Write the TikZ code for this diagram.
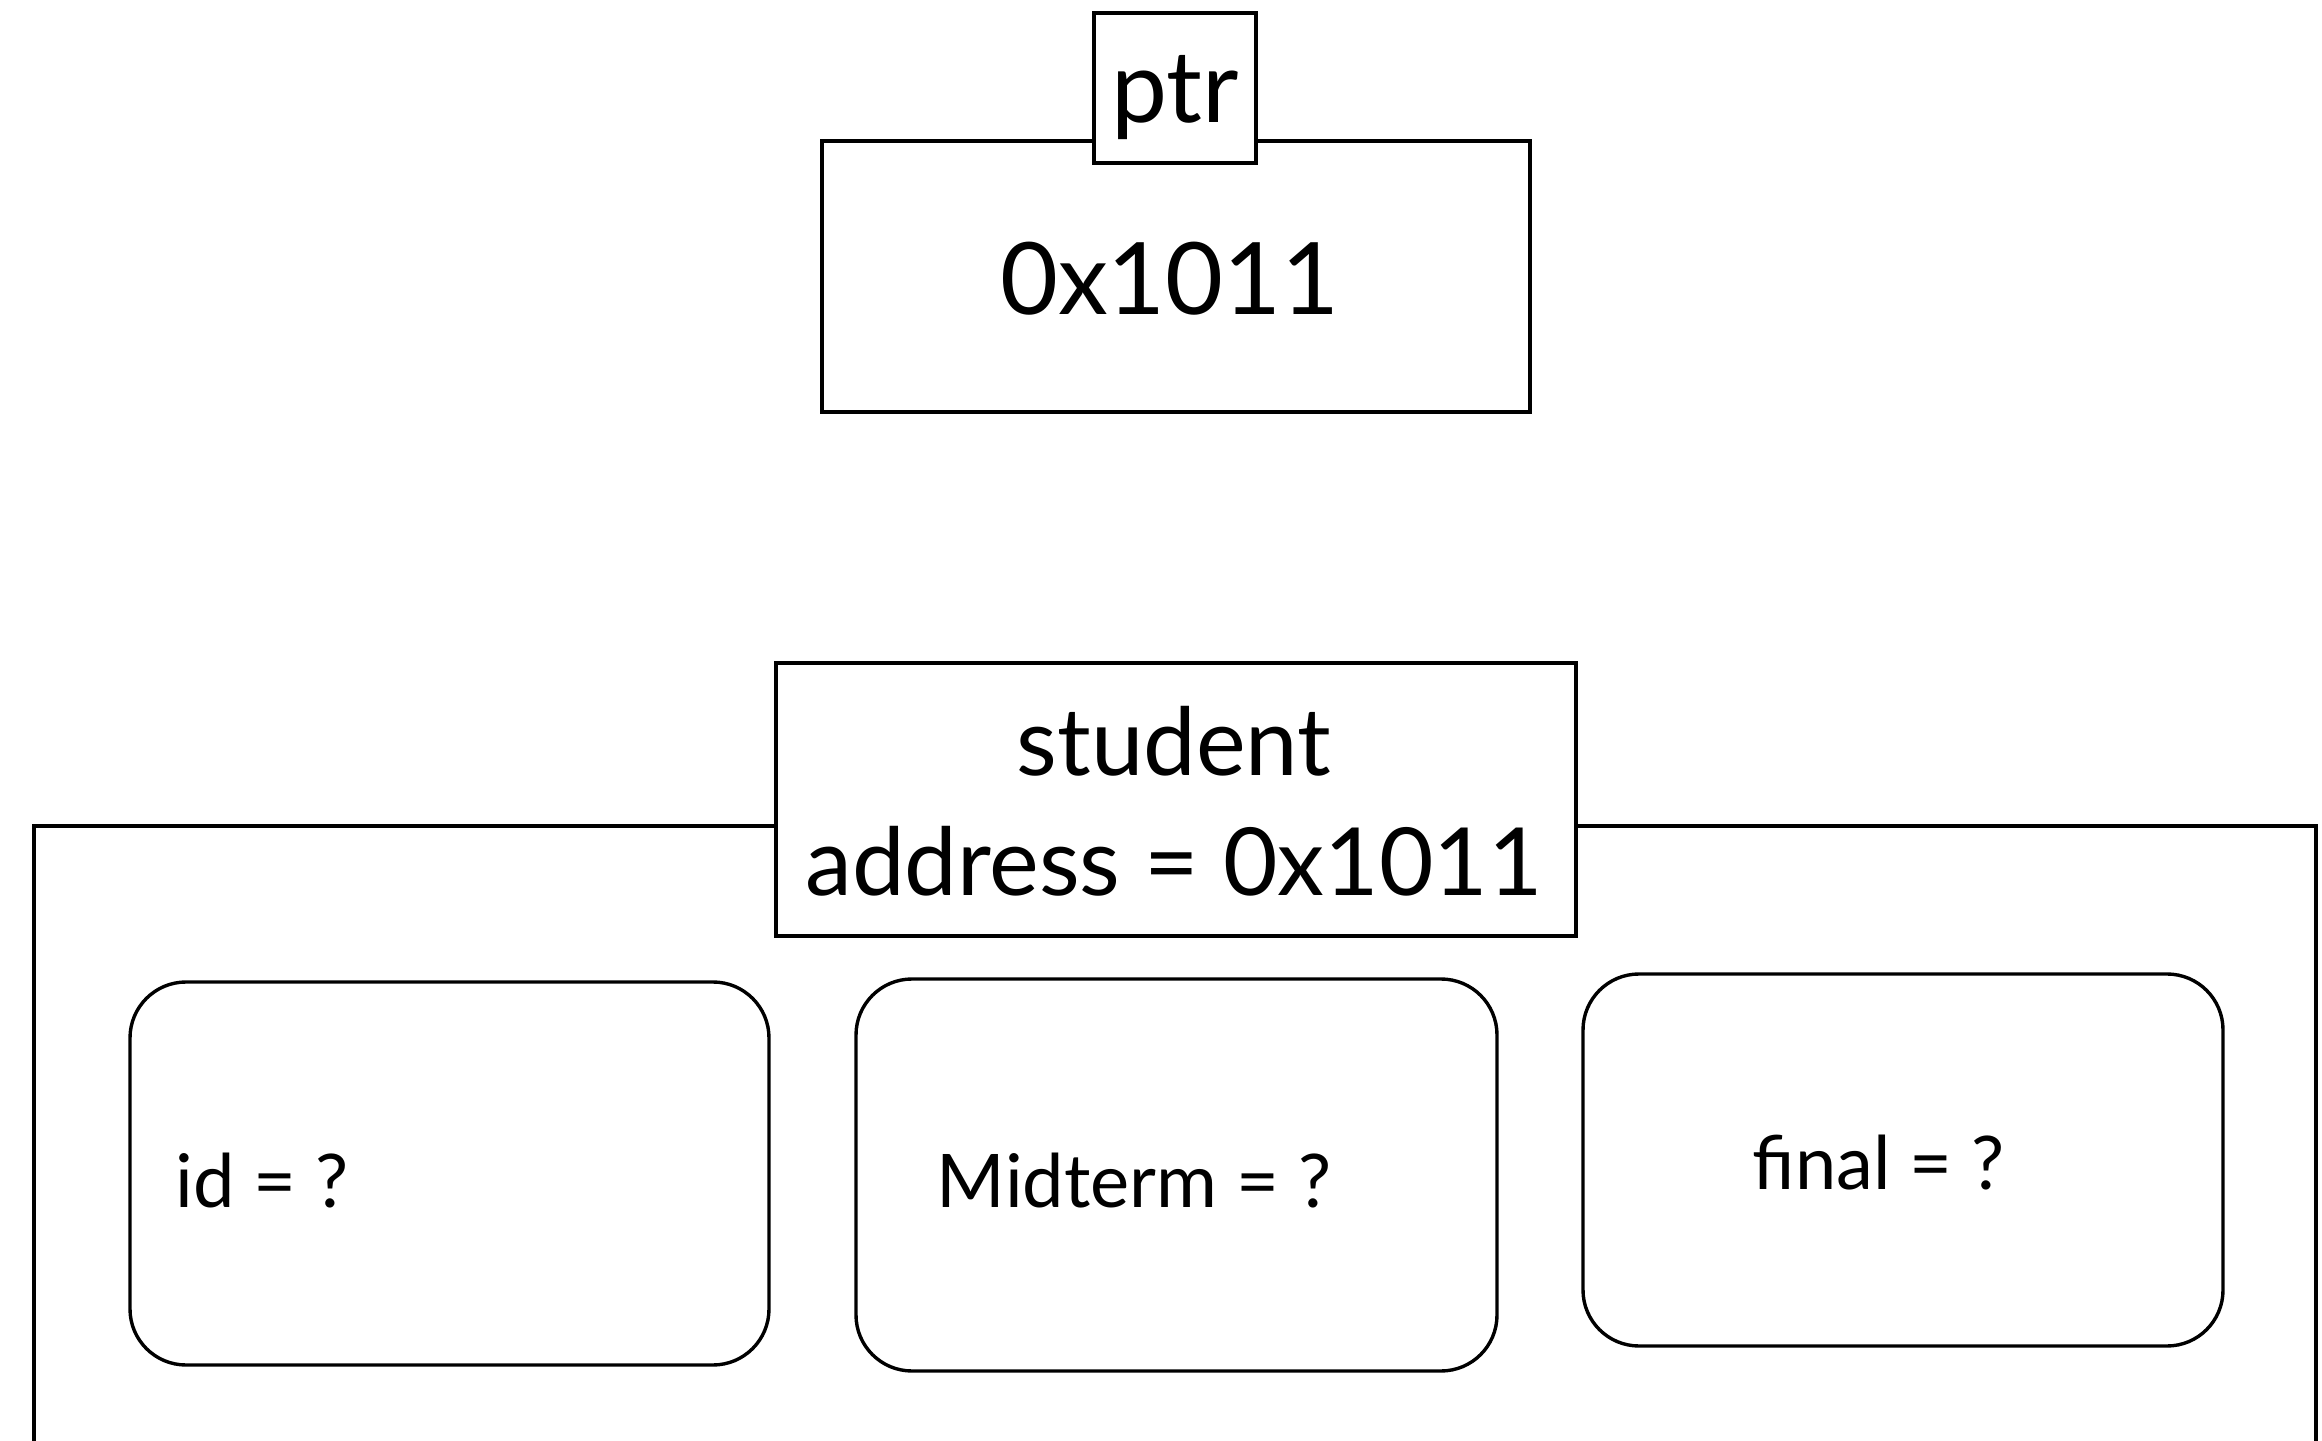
\documentclass[tikz,border=0pt]{standalone}
\usepackage{fontspec}
\setmainfont{Lato}
\begin{document}
\begin{tikzpicture}[x=0.25pt,y=-0.25pt,
  box/.style={draw, line width=0.9pt, fill=white, inner sep=0pt},
  field/.style={draw, line width=0.85pt, rounded corners=14pt, inner sep=0pt},
  bigtxt/.style={font=\fontsize{25}{30}\selectfont, inner sep=0pt},
  ptrtxt/.style={font=\fontsize{25}{30}\selectfont, inner sep=0pt},
  midtxt/.style={font=\fontsize{23.5}{28}\selectfont, inner sep=0pt},
  smalltxt/.style={font=\fontsize{18.5}{22}\selectfont, inner sep=0pt}]
\clip (0,0) rectangle (2322,1441);
\fill[white] (0,0) rectangle (2322,1441);

% pointer variable
\node[box, minimum width=708*0.25pt, minimum height=271*0.25pt] (val) at (1176,276.5) {};
\node[box, minimum width=162*0.25pt, minimum height=150*0.25pt] (ptrbox) at (1175,88) {};
\node[ptrtxt, anchor=base] (ptrlbl) at (1175,123) {ptr};
\node[bigtxt, anchor=base] (vallbl) at (1170,315) {0x1011};

% struct in memory
\draw[line width=0.9pt] (34,1480) -- (34,826) -- (2316,826) -- (2316,1480);
\node[box, minimum width=800*0.25pt, minimum height=273*0.25pt] (stud) at (1176,799.5) {};
\node[midtxt, anchor=base] (studname) at (1174,776) {student};
\node[midtxt, anchor=base] (studaddr) at (1174,896) {address = 0x1011};

% struct members
\node[field, minimum width=639*0.25pt, minimum height=383*0.25pt] (idbox) at (449.5,1173.5) {};
\node[field, minimum width=641*0.25pt, minimum height=392*0.25pt] (midbox) at (1176.5,1175) {};
\node[field, minimum width=640*0.25pt, minimum height=372*0.25pt] (finbox) at (1903,1160) {};
\node[smalltxt, anchor=base west] (idlbl) at (175,1207) {id = ?};
\node[smalltxt, anchor=base west] (midlbl) at (936,1207) {Midterm = ?};
\node[smalltxt, anchor=base west] (finlbl) at (1752,1189) {final = ?};
\end{tikzpicture}
\end{document}
